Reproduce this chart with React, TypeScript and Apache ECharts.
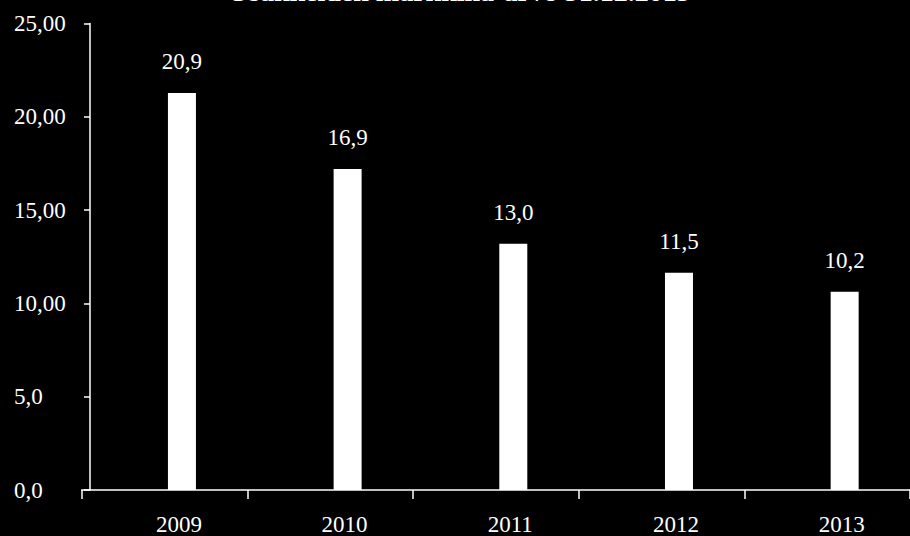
import React, { useEffect, useRef } from "react";
import * as echarts from "echarts";

const categories = ["2009", "2010", "2011", "2012", "2013"];
const barValues = [21.27, 17.2, 13.19, 11.64, 10.63];
const valueLabels = ["20,9", "16,9", "13,0", "11,5", "10,2"];
const yTickValues = [0, 5, 10, 15, 20, 25];
const yTickLabels = ["0,0", "5,0", "10,00", "15,00", "20,00", "25,00"];
const titleText = "Osakkeiden markkina-arvo 31.12.2013";

const FONT = '"Liberation Serif", "Times New Roman", serif';

export default function App() {
  const ref = useRef<HTMLDivElement>(null);
  useEffect(() => {
    if (!ref.current) return;
    const chart = echarts.init(ref.current, undefined, { renderer: "svg" });
    chart.setOption({
      animation: false,
      backgroundColor: "#000000",
      graphic: [
        {
          type: "text",
          x: 459,
          y: -8.5,
          style: {
            text: titleText,
            fill: "#ffffff",
            fontFamily: FONT,
            fontSize: 28,
            fontWeight: "bold",
            align: "center",
            verticalAlign: "middle",
          },
        },
      ],
      grid: { left: 81.6, top: 23.5, width: 843.5, height: 467.5 },
      xAxis: {
        type: "category",
        data: categories,
        boundaryGap: true,
        axisLine: { show: true, lineStyle: { color: "#ffffff", width: 1.5 } },
        axisTick: { show: true, length: 9, lineStyle: { color: "#ffffff", width: 1.5 } },
        axisLabel: {
          color: "#ffffff",
          fontFamily: FONT,
          fontSize: 23,
          margin: 23,
          padding: [0, 0, 0, 29],
        },
        splitLine: { show: false },
      },
      yAxis: {
        type: "value",
        min: 0,
        max: 25,
        interval: 5,
        offset: -8.4,
        axisLine: { show: true, lineStyle: { color: "#ffffff", width: 1.5 } },
        axisTick: { show: true, length: 6, lineStyle: { color: "#ffffff", width: 1.5 } },
        axisLabel: {
          color: "#ffffff",
          fontFamily: FONT,
          fontSize: 23,
          align: "left",
          margin: 76,
          formatter: (v: number) => {
            const i = yTickValues.indexOf(v);
            return i >= 0 ? yTickLabels[i] : "";
          },
        },
        splitLine: { show: false },
      },
      series: [
        {
          type: "bar",
          data: categories.map(() => "-"),
          barWidth: 28,
          barGap: "25%",
          silent: true,
        },
        {
          type: "bar",
          data: barValues,
          barWidth: 28,
          barGap: "25%",
          itemStyle: { color: "#ffffff" },
          label: {
            show: true,
            position: "top",
            distance: 20,
            color: "#ffffff",
            fontFamily: FONT,
            fontSize: 23,
            formatter: (p: any) => valueLabels[p.dataIndex],
          },
        },
      ],
    });
    return () => chart.dispose();
  }, []);
  return (
    <div
      ref={ref}
      style={{ position: "fixed", left: 0, top: 0, width: 910, height: 536 }}
    />
  );
}
